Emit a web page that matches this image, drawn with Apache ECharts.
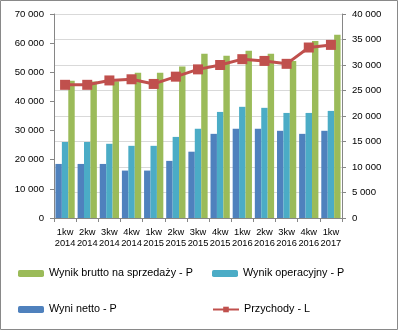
<!DOCTYPE html>
<html><head><meta charset="utf-8">
<script src="https://cdn.jsdelivr.net/npm/echarts@6/dist/echarts.min.js"></script>
<style>html,body{margin:0;padding:0;background:#fff}#c{width:398px;height:330px}</style>
</head><body><div id="c"></div>
<script>
const categories = ['1kw\n2014','2kw\n2014','3kw\n2014','4kw\n2014','1kw\n2015','2kw\n2015','3kw\n2015','4kw\n2015','1kw\n2016','2kw\n2016','3kw\n2016','4kw\n2016','1kw\n2017'];
const netto = [10600,10600,10600,9300,9300,11200,13000,16500,17500,17500,17100,16500,17100];
const operacyjny = [14900,14900,14550,14150,14150,15900,17500,20800,21800,21600,20600,20600,21000];
const brutto = [26900,26750,26800,28500,28500,29700,32200,31800,32800,32200,30800,34700,35950];
const przychody = [45700,45700,47200,47600,46000,48500,51000,52500,54500,53900,52900,58500,59400];
const nameBrutto = 'Wynik brutto na sprzedaży - P';
const nameOper = 'Wynik operacyjny - P';
const nameNetto = 'Wyni netto - P';
const namePrzych = 'Przychody - L';

const FONT = '"Liberation Sans",Arial,sans-serif';
const fmt = v => String(v).replace(/\B(?=(\d{3})+(?!\d))/g, ' ');
const chart = echarts.init(document.getElementById('c'), null, {renderer:'canvas'});
const legendText = {fontFamily: FONT, fontSize: 10.8, color: '#000'};
const lg = (name, left, top) => ({data:[name], left, top, itemWidth:26, itemHeight:7, itemGap:4, textStyle:legendText, selectedMode:false, padding:0});
chart.setOption({
  animation:false,
  textStyle:{fontFamily:FONT},
  graphic:[{type:'rect', shape:{x:0.5,y:0.5,width:397,height:329}, style:{fill:'none', stroke:'#898989', lineWidth:1}, z:-1}],
  legend:[lg(nameBrutto,18,268), lg(nameOper,212,268), lg(nameNetto,18,304), lg(namePrzych,212,304)],
  grid:{left:54, right:56, top:14, bottom:112, containLabel:false},
  xAxis:{type:'category', data:categories, boundaryGap:true,
    axisLine:{lineStyle:{color:'#868686'}},
    axisTick:{show:true, alignWithLabel:false, length:4, lineStyle:{color:'#868686'}},
    axisLabel:{interval:0, fontFamily:FONT, fontSize:9.3, color:'#000', lineHeight:11, margin:9}},
  yAxis:[
    {type:'value', min:0, max:70000, interval:10000, position:'left',
     axisLine:{show:true, lineStyle:{color:'#868686'}},
     axisTick:{show:true, length:4, lineStyle:{color:'#868686'}},
     splitLine:{show:false},
     axisLabel:{formatter:fmt, fontFamily:FONT, fontSize:9.6, color:'#000', margin:10}},
    {type:'value', min:0, max:40000, interval:5000, position:'right',
     axisLine:{show:true, lineStyle:{color:'#868686'}},
     axisTick:{show:true, length:4, lineStyle:{color:'#868686'}},
     splitLine:{show:true, lineStyle:{color:'#D9D9D9'}},
     axisLabel:{formatter:fmt, fontFamily:FONT, fontSize:9.6, color:'#000', margin:10}}
  ],
  series:[
    {name:nameNetto, type:'bar', yAxisIndex:1, data:netto, itemStyle:{color:'#4F81BD'}, barGap:'0%', barCategoryGap:'13%'},
    {name:nameOper, type:'bar', yAxisIndex:1, data:operacyjny, itemStyle:{color:'#4BACC6'}, barGap:'0%', barCategoryGap:'13%'},
    {name:nameBrutto, type:'bar', yAxisIndex:1, data:brutto, itemStyle:{color:'#9BBB59'}, barGap:'0%', barCategoryGap:'13%'},
    {name:namePrzych, type:'line', yAxisIndex:0, data:przychody, symbol:'rect', symbolSize:10,
     lineStyle:{color:'#C0504D', width:3}, itemStyle:{color:'#C0504D'}, z:5}
  ]
});
</script></body></html>
